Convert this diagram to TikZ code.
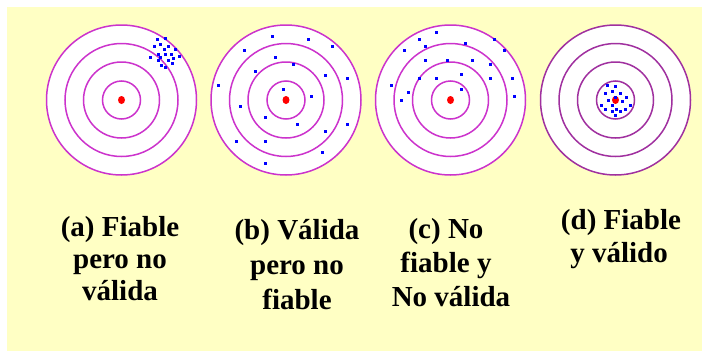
\documentclass[tikz,border=0pt]{standalone}
\usepackage{fontspec}
\setmainfont{Liberation Serif}
\definecolor{bgyellow}{HTML}{FFFFC4}
\definecolor{ringmag}{HTML}{CC33CC}
\definecolor{ringdark}{HTML}{A0309F}
\definecolor{dotblue}{HTML}{0000FF}
\definecolor{bullred}{HTML}{FF0000}
\begin{document}
\begin{tikzpicture}[x=1pt,y=-1pt,
  ringline/.style={line width=1.5pt},
  bdot/.style={fill=dotblue},
  lbl/.style={font=\bfseries\fontsize{29}{33}\selectfont, inner sep=0pt, anchor=base}]
\useasboundingbox (0,0) rectangle (702,351);
\fill[white] (0,0) rectangle (702,351);
\fill[bgyellow] (7,7) rectangle (702,351);
% targets
\foreach \cx/\rc in {121.5/ringmag, 286/ringmag, 450.5/ringmag, 615.5/ringdark}{
  \fill[white] (\cx,100) circle (75pt);
  \foreach \r in {75,56.5,38,19}
    \draw[ringline, draw=\rc] (\cx,100) circle (\r pt);
  \fill[bullred] (\cx,100) ellipse (3.5pt and 4pt);
}
% (a) shots
\foreach \x/\y in {157.3/39, 165/38.3, 154/46, 160.7/44, 168.3/46, 164.3/49.3, 175/49.3,
  158.3/54.3, 165/54.3, 171.7/54.3, 179.3/56.7, 150/57.3, 160.7/57.7, 158.3/60.7,
  168.3/60.7, 173.3/58.3, 161.7/65, 165/67.3, 172.3/63.3}
  \fill[bdot] (\x,\y) +(-1.5,-1.5) rectangle +(1.5,1.5);
% (b) shots
\foreach \x/\y in {272.3/36, 308.3/39, 332.7/46, 244/50, 275.7/57.3, 293.7/64.3, 255/71.7,
  325.7/75, 347.3/78.3, 218.3/85, 283.3/89, 311.3/96, 240/106.7, 265.7/117.3,
  297.3/124, 347.3/124.3, 325.7/131.7, 236.7/141.7, 265.7/141.7, 322.3/152.7, 265.7/163.3}
  \fill[bdot] (\x,\y) +(-1.5,-1.5) rectangle +(1.5,1.5);
% (c) shots
\foreach \x/\y in {436.7/32.3, 419.3/39, 494/39, 425.7/46, 465/43, 404.3/50, 504/50,
  425.7/60.7, 447.3/60.7, 472.3/60.7, 490.7/64, 461.7/74.7, 419.3/78.3, 436.7/78.3,
  490.7/78.3, 512.3/78.3, 391/85, 461.7/89, 408.3/92.3, 401.7/100, 514.7/96}
  \fill[bdot] (\x,\y) +(-1.5,-1.5) rectangle +(1.5,1.5);
% (d) shots
\foreach \x/\y in {607.7/85.7, 615.7/86.7, 605/93.3, 612.3/91.7, 620/93.3, 615.7/97.3,
  626.7/97.3, 608.3/100.7, 622.3/101.7, 601/105, 612.3/105, 630/105, 605/109,
  616.7/109, 625/109, 612.3/111.7, 615.7/115, 620/111.7}
  \fill[bdot] (\x,\y) +(-1.5,-1.5) rectangle +(1.5,1.5);
% labels
\node[lbl] (a1) at (120,236) {(a) Fiable};
\node[lbl] (a2) at (120,268) {pero no};
\node[lbl] (a3) at (120,300) {válida};
\node[lbl] (b1) at (297,239) {(b) Válida};
\node[lbl] (b2) at (297,274) {pero no};
\node[lbl] (b3) at (297,309) {fiable};
\node[lbl] (c1) at (446,238) {(c) No};
\node[lbl] (c2) at (446,272) {fiable y};
\node[lbl] (c3) at (451,306) {No válida};
\node[lbl] (d1) at (621,229.5) {(d) Fiable};
\node[lbl] (d2) at (619,262.5) {y válido};
\end{tikzpicture}
\end{document}
